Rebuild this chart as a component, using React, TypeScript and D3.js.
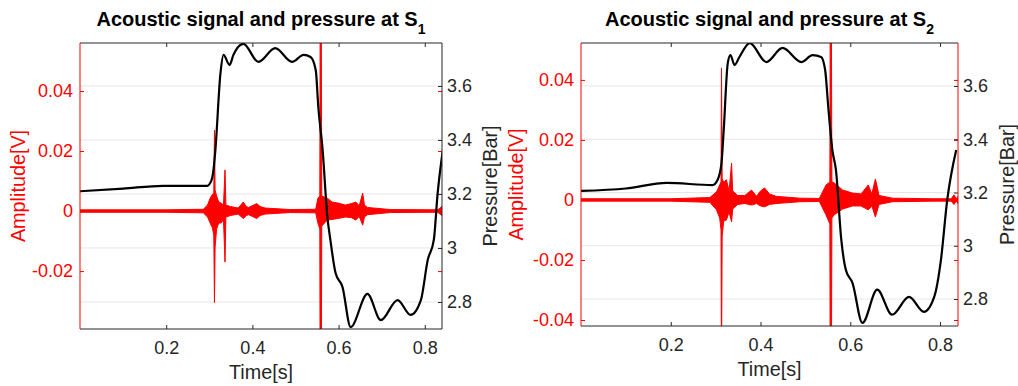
// Acoustic signal and pressure at S1 / S2, dual y-axis panels drawn with D3
import { useEffect, useRef } from 'react';
import * as d3 from 'd3';

const timeTicks = [0.2, 0.4, 0.6, 0.8];
const pressureTicks = [2.8, 3, 3.2, 3.4, 3.6];
const ampTicksS1 = [-0.02, 0, 0.02, 0.04];
const ampTicksS2 = [-0.04, -0.02, 0, 0.02, 0.04];

// pressure [bar]
const pressureTimeS1 = [0, 0.1, 0.193, 0.295, 0.305, 0.309, 0.314, 0.326, 0.333, 0.347, 0.356, 0.379, 0.414, 0.453, 0.492, 0.519, 0.535, 0.547, 0.553, 0.563, 0.574, 0.581, 0.593, 0.609, 0.628, 0.667, 0.698, 0.737, 0.767, 0.791, 0.807, 0.821, 0.83, 0.842];
const pressureS1 = [3.21, 3.22, 3.23, 3.23, 3.25, 3.28, 3.36, 3.648, 3.715, 3.678, 3.715, 3.756, 3.689, 3.74, 3.689, 3.715, 3.707, 3.659, 3.522, 3.363, 3.115, 3.03, 2.907, 2.856, 2.707, 2.83, 2.733, 2.807, 2.752, 2.807, 2.956, 3.03, 3.204, 3.363];

const pressureTimeS2 = [0, 0.1, 0.191, 0.293, 0.305, 0.313, 0.318, 0.327, 0.333, 0.342, 0.353, 0.376, 0.413, 0.449, 0.491, 0.516, 0.535, 0.544, 0.551, 0.56, 0.568, 0.58, 0.59, 0.605, 0.627, 0.66, 0.693, 0.731, 0.764, 0.787, 0.802, 0.816, 0.836];
const pressureS2 = [3.206, 3.215, 3.236, 3.228, 3.25, 3.31, 3.435, 3.686, 3.716, 3.679, 3.709, 3.761, 3.69, 3.743, 3.69, 3.716, 3.709, 3.66, 3.52, 3.36, 3.285, 3.022, 2.91, 2.86, 2.71, 2.835, 2.741, 2.808, 2.752, 2.808, 2.947, 3.172, 3.36];

// acoustic signal [V] as an envelope (upper / lower)
const signalTimeS1 = [0, 0.1, 0.2, 0.286, 0.296, 0.302, 0.307, 0.3105, 0.312, 0.3135, 0.317, 0.322, 0.327, 0.333, 0.3365, 0.3385, 0.349, 0.367, 0.379, 0.386, 0.391, 0.403, 0.41, 0.418, 0.43, 0.488, 0.547, 0.552, 0.5565, 0.5575, 0.5595, 0.561, 0.574, 0.585, 0.598, 0.616, 0.63, 0.64, 0.648, 0.656, 0.66, 0.667, 0.72, 0.83, 0.84];
const signalUpperS1 = [0.0004, 0.0004, 0.0004, 0.0006, 0.002, 0.0043, 0.0055, 0.006, 0.027, 0.007, 0.005, 0.003, 0.0027, 0.002, 0.0137, 0.002, 0.0015, 0.001, 0.003, 0.0015, 0.0012, 0.002, 0.0025, 0.0015, 0.001, 0.0005, 0.0006, 0.0043, 0.005, 0.08, 0.08, 0.005, 0.0043, 0.003, 0.0027, 0.002, 0.0025, 0.003, 0.0018, 0.006, 0.002, 0.0012, 0.0005, 0.0004, 0.0015];
const signalLowerS1 = [-0.0004, -0.0004, -0.0004, -0.0006, -0.002, -0.004, -0.0055, -0.008, -0.0305, -0.012, -0.006, -0.004, -0.004, -0.003, -0.017, -0.002, -0.0015, -0.001, -0.0025, -0.0015, -0.0012, -0.002, -0.0025, -0.0015, -0.001, -0.0005, -0.0006, -0.004, -0.006, -0.08, -0.08, -0.005, -0.003, -0.0028, -0.0025, -0.002, -0.0022, -0.003, -0.0018, -0.0047, -0.002, -0.0012, -0.0005, -0.0004, -0.0015];

const signalTimeS2 = [0, 0.1, 0.2, 0.287, 0.302, 0.309, 0.312, 0.313, 0.3145, 0.318, 0.324, 0.33, 0.3355, 0.338, 0.349, 0.365, 0.38, 0.391, 0.4, 0.409, 0.42, 0.435, 0.487, 0.531, 0.546, 0.5545, 0.5555, 0.5575, 0.559, 0.564, 0.583, 0.605, 0.624, 0.64, 0.648, 0.656, 0.664, 0.694, 0.782, 0.825, 0.831, 0.836, 0.84];
const signalUpperS2 = [0.0004, 0.0004, 0.0004, 0.0008, 0.0027, 0.005, 0.006, 0.044, 0.007, 0.006, 0.0067, 0.003, 0.0123, 0.003, 0.0015, 0.0015, 0.0033, 0.0012, 0.003, 0.004, 0.002, 0.0012, 0.0006, 0.0005, 0.005, 0.006, 0.08, 0.08, 0.006, 0.0057, 0.0033, 0.0023, 0.002, 0.005, 0.002, 0.007, 0.0015, 0.0006, 0.0004, 0.0004, 0.0017, 0.0004, 0.0012];
const signalLowerS2 = [-0.0004, -0.0004, -0.0004, -0.0008, -0.0033, -0.006, -0.01, -0.06, -0.012, -0.007, -0.0067, -0.004, -0.0073, -0.003, -0.0015, -0.0012, -0.0017, -0.0012, -0.002, -0.0023, -0.0015, -0.0012, -0.0006, -0.0005, -0.005, -0.008, -0.08, -0.08, -0.006, -0.005, -0.003, -0.002, -0.002, -0.0033, -0.002, -0.0057, -0.0015, -0.0006, -0.0004, -0.0004, -0.0015, -0.0004, -0.0012];

const RED = '#ff0000';
const DARK = '#262626';
const FONT = "'Liberation Sans', Arial, Helvetica, sans-serif";

interface Panel {
  id: string;
  sub: string;
  left: number;
  right: number;
  top: number;
  bottom: number;
  ampDomain: [number, number];
  pressDomain: [number, number];
  ampTicks: number[];
  pressTime: number[];
  press: number[];
  sigTime: number[];
  sigUp: number[];
  sigLo: number[];
  rightColor: string;
  ampLabelX: number;
  pressLabelX: number;
}

const panels: Panel[] = [
  {
    id: 's1', sub: '1', left: 80, right: 442, top: 43, bottom: 329,
    ampDomain: [-0.0393, 0.056], pressDomain: [2.7, 3.759],
    ampTicks: ampTicksS1, pressTime: pressureTimeS1, press: pressureS1,
    sigTime: signalTimeS1, sigUp: signalUpperS1, sigLo: signalLowerS1,
    rightColor: DARK, ampLabelX: 25, pressLabelX: 497
  },
  {
    id: 's2', sub: '2', left: 581, right: 958, top: 43, bottom: 326,
    ampDomain: [-0.042, 0.0523], pressDomain: [2.6986, 3.7615],
    ampTicks: ampTicksS2, pressTime: pressureTimeS2, press: pressureS2,
    sigTime: signalTimeS2, sigUp: signalUpperS2, sigLo: signalLowerS2,
    rightColor: RED, ampLabelX: 523, pressLabelX: 1014
  }
];

const ampFormat = (d: number) => (d === 0 ? '0' : d.toFixed(2));

const styleAxis = (sel: any, color: string) => {
  sel.select('.domain').remove();
  sel.attr('font-family', FONT).attr('font-size', 18);
  sel.selectAll('line').attr('stroke', color);
  sel.selectAll('text').attr('fill', color);
};

const App = () => {
  const svgRef = useRef<SVGSVGElement>(null);

  useEffect(() => {
    if (!svgRef.current) return;
    const svg = d3.select(svgRef.current);
    svg.selectAll('*').remove();

    panels.forEach(p => {
      const x = d3.scaleLinear().domain([0, 0.84]).range([p.left, p.right]);
      const yA = d3.scaleLinear().domain(p.ampDomain).range([p.bottom, p.top]);
      const yP = d3.scaleLinear().domain(p.pressDomain).range([p.bottom, p.top]);

      const g = svg.append('g');

      g.append('clipPath').attr('id', `clip-${p.id}`)
        .append('rect')
        .attr('x', p.left).attr('y', p.top)
        .attr('width', p.right - p.left).attr('height', p.bottom - p.top);

      // grid lines follow the pressure axis
      g.selectAll('.grid')
        .data(pressureTicks)
        .enter().append('line')
        .attr('x1', p.left).attr('x2', p.right)
        .attr('y1', d => yP(d)).attr('y2', d => yP(d))
        .attr('stroke', '#e6e6e6')
        .attr('stroke-width', 1);

      const plot = g.append('g').attr('clip-path', `url(#clip-${p.id})`);

      // acoustic signal
      const idx = d3.range(p.sigTime.length);
      const area = d3.area<number>()
        .x(i => x(p.sigTime[i]))
        .y0(i => yA(p.sigLo[i]))
        .y1(i => yA(p.sigUp[i]));
      plot.append('path')
        .attr('d', area(idx) || '')
        .attr('fill', RED)
        .attr('stroke', RED)
        .attr('stroke-width', 1)
        .attr('stroke-linejoin', 'miter');

      // pressure
      const pIdx = d3.range(p.pressTime.length);
      const line = d3.line<number>()
        .x(i => x(p.pressTime[i]))
        .y(i => yP(p.press[i]))
        .curve(d3.curveMonotoneX);
      plot.append('path')
        .attr('d', line(pIdx) || '')
        .attr('fill', 'none')
        .attr('stroke', '#000')
        .attr('stroke-width', 2.2)
        .attr('stroke-linejoin', 'round');

      // axes
      const bottomAxis = g.append('g')
        .attr('transform', `translate(0,${p.bottom})`)
        .call(d3.axisBottom(x).tickValues(timeTicks).tickSizeInner(-4).tickSizeOuter(0)
          .tickPadding(12).tickFormat(d => d3.format('.1f')(d as number)));
      styleAxis(bottomAxis, DARK);

      const topAxis = g.append('g')
        .attr('transform', `translate(0,${p.top})`)
        .call(d3.axisTop(x).tickValues(timeTicks).tickSizeInner(-4).tickSizeOuter(0)
          .tickFormat(() => ''));
      styleAxis(topAxis, DARK);

      const leftAxis = g.append('g')
        .attr('transform', `translate(${p.left},0)`)
        .call(d3.axisLeft(yA).tickValues(p.ampTicks).tickSizeInner(-4).tickSizeOuter(0)
          .tickPadding(7).tickFormat(d => ampFormat(d as number)));
      styleAxis(leftAxis, RED);

      const mirrorAxis = g.append('g')
        .attr('transform', `translate(${p.right},0)`)
        .call(d3.axisRight(yA).tickValues(p.ampTicks).tickSizeInner(-4).tickSizeOuter(0)
          .tickFormat(() => ''));
      styleAxis(mirrorAxis, RED);

      const rightAxis = g.append('g')
        .attr('transform', `translate(${p.right},0)`)
        .call(d3.axisRight(yP).tickValues(pressureTicks).tickSizeInner(-4).tickSizeOuter(0)
          .tickPadding(5).tickFormat(d => String(d)));
      styleAxis(rightAxis, DARK);

      // box
      g.append('line').attr('x1', p.left).attr('x2', p.right).attr('y1', p.top).attr('y2', p.top)
        .attr('stroke', DARK).attr('stroke-width', 1);
      g.append('line').attr('x1', p.left).attr('x2', p.right).attr('y1', p.bottom).attr('y2', p.bottom)
        .attr('stroke', DARK).attr('stroke-width', 1);
      g.append('line').attr('x1', p.left).attr('x2', p.left).attr('y1', p.top).attr('y2', p.bottom)
        .attr('stroke', RED).attr('stroke-width', 1);
      g.append('line').attr('x1', p.right).attr('x2', p.right).attr('y1', p.top).attr('y2', p.bottom)
        .attr('stroke', p.rightColor).attr('stroke-width', 1);

      // title
      const cx = (p.left + p.right) / 2;
      const title = g.append('text')
        .attr('x', cx).attr('y', 26)
        .attr('text-anchor', 'middle')
        .attr('font-family', FONT)
        .attr('font-weight', 'bold')
        .attr('font-size', 20)
        .attr('fill', '#000');
      title.append('tspan').text('Acoustic signal and pressure at S');
      title.append('tspan').attr('dy', 8).attr('font-size', 14).text(p.sub);

      // axis labels
      const cy = (p.top + p.bottom) / 2;
      g.append('text')
        .attr('transform', `translate(${(p.left + p.right) / 2},${p.bottom + 50}) `)
        .attr('text-anchor', 'middle')
        .attr('font-family', FONT).attr('font-size', 19.8)
        .attr('fill', DARK)
        .text('Time[s]');
      g.append('text')
        .attr('transform', `translate(${p.ampLabelX},${cy}) rotate(-90)`)
        .attr('text-anchor', 'middle')
        .attr('font-family', FONT).attr('font-size', 19.8)
        .attr('fill', RED)
        .text('Amplitude[V]');
      g.append('text')
        .attr('transform', `translate(${p.pressLabelX},${cy}) rotate(-90)`)
        .attr('text-anchor', 'middle')
        .attr('font-family', FONT).attr('font-size', 19.8)
        .attr('fill', DARK)
        .text('Pressure[Bar]');
    });
  }, []);

  return (
    <svg
      ref={svgRef}
      width={1018}
      height={386}
      style={{ position: 'absolute', left: 0, top: 0, background: '#fff' }}
    />
  );
};

export default App;
